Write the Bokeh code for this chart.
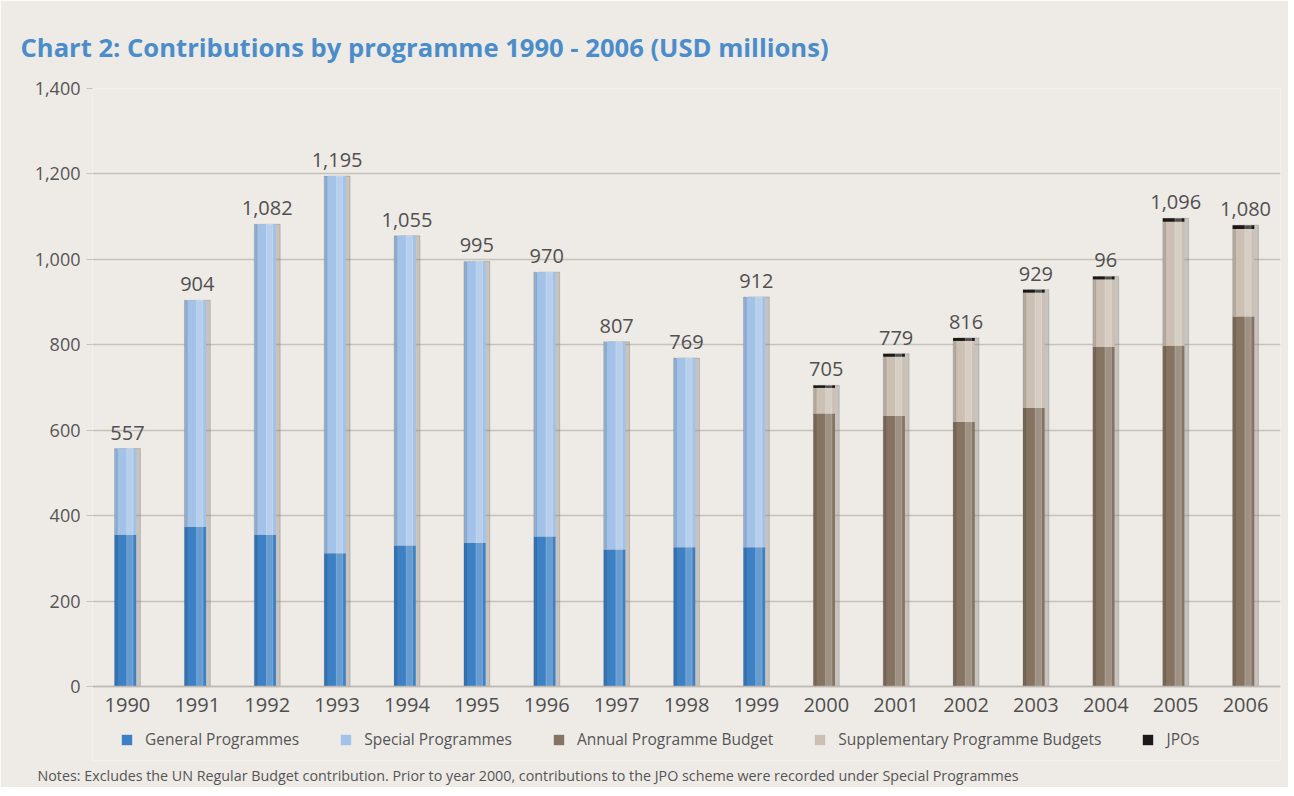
from bokeh.plotting import figure
from bokeh.models import (ColumnDataSource, Legend, LegendItem, Title,
                          NumeralTickFormatter, FixedTicker, LabelSet)
from bokeh.transform import dodge
from bokeh.core.properties import value
from bokeh.embed import file_html
from bokeh.resources import INLINE

# ---------------- data ----------------
years = ["1990", "1991", "1992", "1993", "1994", "1995", "1996", "1997", "1998",
         "1999", "2000", "2001", "2002", "2003", "2004", "2005", "2006"]
general_programmes = [355, 374, 355, 312, 330, 336, 351, 321, 326, 326,
                      0, 0, 0, 0, 0, 0, 0]
special_programmes = [202, 530, 727, 883, 725, 659, 619, 486, 443, 586,
                      0, 0, 0, 0, 0, 0, 0]
annual_programme_budget = [0, 0, 0, 0, 0, 0, 0, 0, 0, 0,
                           639, 633, 619, 652, 795, 798, 866]
supplementary_budgets = [0, 0, 0, 0, 0, 0, 0, 0, 0, 0,
                         60, 139, 190, 270, 158, 290, 205]
jpos = [0, 0, 0, 0, 0, 0, 0, 0, 0, 0,
        6, 7, 7, 7, 7, 8, 9]
value_labels = ["557", "904", "1,082", "1,195", "1,055", "995", "970", "807", "769",
                "912", "705", "779", "816", "929", "96", "1,096", "1,080"]
series_names = ["General Programmes", "Special Programmes", "Annual Programme Budget",
                "Supplementary Programme Budgets", "JPOs"]
y_ticks = [0, 200, 400, 600, 800, 1000, 1200, 1400]

title_text = "Chart 2: Contributions by programme 1990 - 2006 (USD millions)"
notes_text = ("Notes: Excludes the UN Regular Budget contribution. Prior to year 2000, "
              "contributions to the JPO scheme were recorded under Special Programmes")

# ---------------- styling ----------------
BG = "#eeebe7"
colors = ["#3d80c4", "#a3c2e7", "#857462", "#cbc0b3", "#1c1a19"]
FONT = "Open Sans"
PX_PER_UNIT = 598 / 1400          # vertical scale of the value axis
BELOW_ZERO_PX = 74                # room under the zero line for the legend

totals = [a + b + c + d + e for a, b, c, d, e in zip(general_programmes, special_programmes,
                                                     annual_programme_budget,
                                                     supplementary_budgets, jpos)]
stack_keys = ["general", "special", "annual", "supplementary", "jpo"]
src = ColumnDataSource(dict(year=years, general=general_programmes,
                            special=special_programmes, annual=annual_programme_budget,
                            supplementary=supplementary_budgets, jpo=jpos,
                            total=totals, label=value_labels))

p = figure(x_range=years, y_range=(-BELOW_ZERO_PX / PX_PER_UNIT, 1400),
           frame_width=1188, frame_height=598 + BELOW_ZERO_PX,
           output_backend="svg", toolbar_location=None,
           min_border_left=92, min_border_right=8, min_border_top=88,
           min_border_bottom=0, title=title_text)

p.background_fill_color = BG
p.border_fill_color = BG
p.outline_line_color = None

p.title.align = "left"
p.title.offset = -72
p.title.standoff = 48
p.title.text_font = FONT
p.title.text_font_style = "bold"
p.title.text_font_size = "25.6px"
p.title.text_color = "#4a8dca"

BAR_W = 0.31
SHIFT = -0.03
# shadow
p.vbar(x=dodge("year", SHIFT + 0.06, range=p.x_range), top="total", width=BAR_W,
       source=src, color="#7d7873", alpha=0.35)
renderers = p.vbar_stack(stack_keys, x=dodge("year", SHIFT, range=p.x_range),
                         width=BAR_W, color=colors, line_color=None, source=src)
# cylindrical highlight / edge shading
p.vbar(x=dodge("year", SHIFT + 0.065, range=p.x_range), top="total", width=0.09,
       source=src, color="white", alpha=0.22)
p.vbar(x=dodge("year", SHIFT - 0.135, range=p.x_range), top="total", width=0.04,
       source=src, color="black", alpha=0.10)

labels = LabelSet(x="year", y="total", text="label", source=src, y_offset=9,
                  text_align="center", text_baseline="bottom",
                  text_font_size=value("20px"), text_color=value("#505050"),
                  text_font=value(FONT))
p.add_layout(labels)

# axes
p.xgrid.grid_line_color = None
p.ygrid.grid_line_color = "#c6c1bb"
p.ygrid.grid_line_width = 1.5
p.yaxis.ticker = FixedTicker(ticks=y_ticks)
p.yaxis.formatter = NumeralTickFormatter(format="0,0")
p.yaxis.axis_line_color = None
p.yaxis.major_tick_line_color = "#c6c1bb"
p.yaxis.major_tick_out = 6
p.yaxis.major_tick_in = 0
p.yaxis.minor_tick_line_color = None
p.yaxis.major_label_text_font = FONT
p.yaxis.major_label_text_font_size = "18px"
p.yaxis.major_label_text_color = "#555555"
p.yaxis.major_label_standoff = 6

p.xaxis.fixed_location = 0
p.xaxis.axis_line_color = "#bdb8b2"
p.xaxis.axis_line_width = 1.5
p.xaxis.major_tick_line_color = None
p.xaxis.minor_tick_line_color = None
p.xaxis.major_label_text_font = FONT
p.xaxis.major_label_text_font_size = "20px"
p.xaxis.major_label_text_color = "#4f4f4f"
p.xaxis.major_label_standoff = 5

legend = Legend(items=[LegendItem(label=n, renderers=[r]) for n, r in zip(series_names, renderers)],
                orientation="horizontal", location=(28, 10),
                background_fill_alpha=0, border_line_color=None,
                label_text_font=FONT, label_text_font_size="15.5px",
                label_text_color="#555555", spacing=40, glyph_width=13,
                glyph_height=13, padding=2, margin=0, label_standoff=12)
p.add_layout(legend, "center")

notes = Title(text=notes_text, align="left", offset=-55, standoff=6, text_font=FONT,
              text_font_size="14.3px", text_font_style="normal", text_color="#555555")
p.add_layout(notes, "below")

open("out.html", "w").write(file_html(p, INLINE))
